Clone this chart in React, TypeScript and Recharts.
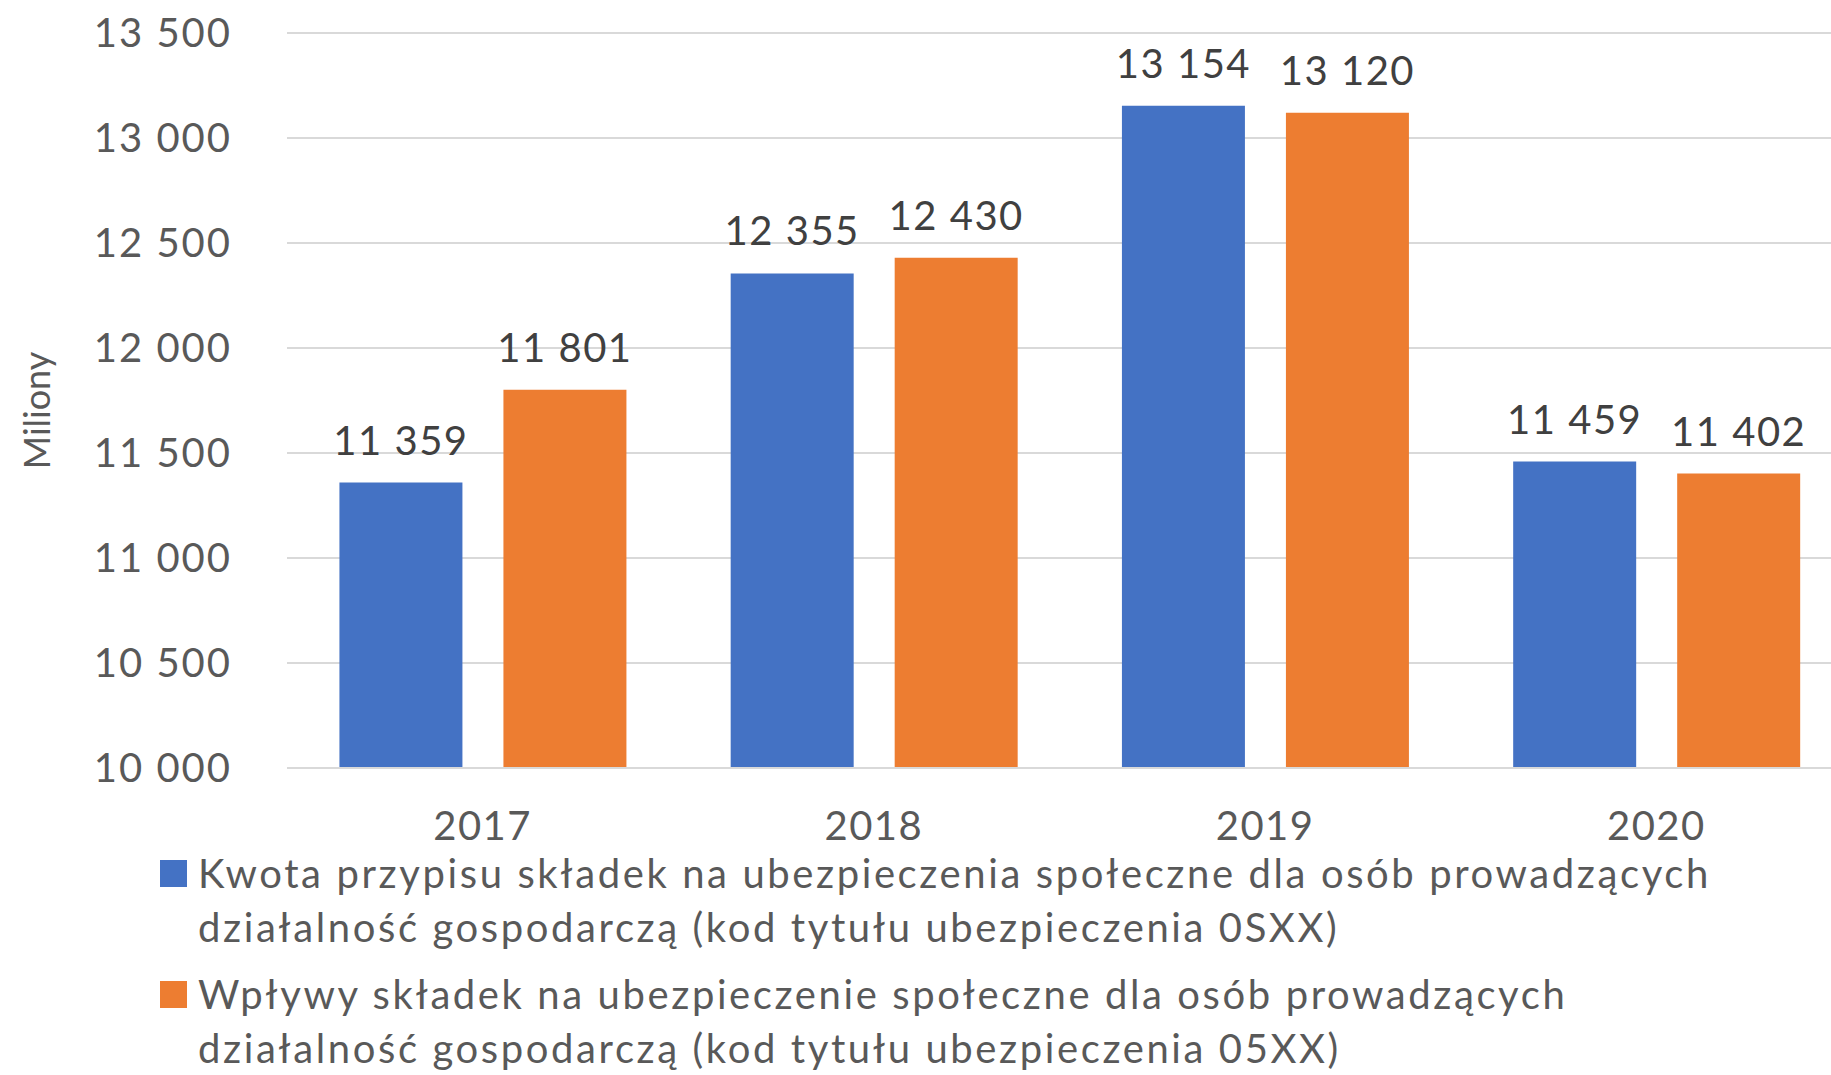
import { BarChart, Bar, XAxis, YAxis, CartesianGrid, LabelList, Legend, Label } from 'recharts'

const years = ['2017', '2018', '2019', '2020']
const przypis = [11359, 12355, 13154, 11459]
const wplywy = [11801, 12430, 13120, 11402]
const yTicks = [10000, 10500, 11000, 11500, 12000, 12500, 13000, 13500]
const seriesNames = [
  'Kwota przypisu składek na ubezpieczenia społeczne dla osób prowadzących\ndziałalność gospodarczą (kod tytułu ubezpieczenia 0SXX)',
  'Wpływy składek na ubezpieczenie społeczne dla osób prowadzących\ndziałalność gospodarczą (kod tytułu ubezpieczenia 05XX)',
]

const data = years.map((y, i) => ({ year: y, przypis: przypis[i], wplywy: wplywy[i] }))

const FONT = 'Lato, "Open Sans", sans-serif'
const fmt = (v: number) => String(v).replace(/\B(?=(\d{3})+(?!\d))/g, ' ')

function LegendBox({ payload }: any) {
  return (
    <div style={{ fontFamily: FONT, fontSize: 40, lineHeight: '54px', color: '#595959', letterSpacing: 2.6 }}>
      {(payload || []).map((p: any, i: number) => (
        <div key={i} style={{ display: 'flex', alignItems: 'flex-start', marginBottom: 13 }}>
          <div style={{ width: 27, height: 27, background: p.color, marginTop: 14, marginRight: 11, flexShrink: 0 }} />
          <div style={{ whiteSpace: 'pre-line' }}>{p.value}</div>
        </div>
      ))}
    </div>
  )
}

export default function App() {
  return (
    <div style={{ position: 'absolute', left: 0, top: 0, width: 1831, height: 1075, overflow: 'hidden', background: '#fff' }}>
      <BarChart
        width={1860}
        height={1075}
        data={data}
        margin={{ top: 33, right: 8, bottom: 227, left: 0 }}
        barCategoryGap="13.4%"
        barGap={41}
      >
        <CartesianGrid vertical={false} stroke="#d9d9d9" strokeWidth={2} />
        <XAxis
          dataKey="year"
          height={80}
          tickLine={false}
          axisLine={{ stroke: '#d9d9d9', strokeWidth: 2 }}
          tickSize={0}
          tickMargin={44}
          tick={{ fill: '#595959', fontSize: 40, fontFamily: FONT, letterSpacing: 1.5 }}
        />
        <YAxis
          width={287}
          domain={[10000, 13500]}
          ticks={yTicks}
          allowDataOverflow
          axisLine={false}
          tickLine={false}
          tickSize={0}
          tickMargin={55}
          tickFormatter={fmt}
          tick={{ fill: '#595959', fontSize: 40, fontFamily: FONT, letterSpacing: 2 }}
        >
          <Label value="Miliony" angle={-90} position="center" dx={-106} dy={10} fill="#595959" fontSize={36} fontFamily={FONT} />
        </YAxis>
        <Legend
          layout="horizontal"
          verticalAlign="middle"
          align="center"
          content={<LegendBox />}
          wrapperStyle={{ top: 846, left: 160, width: 1660 }}
        />
        <Bar dataKey="przypis" name={seriesNames[0]} fill="#4472C4" isAnimationActive={false}>
          <LabelList dataKey="przypis" position="top" offset={28} formatter={fmt} fill="#404040" fontSize={40} fontFamily={FONT} letterSpacing={1.5} />
        </Bar>
        <Bar dataKey="wplywy" name={seriesNames[1]} fill="#ED7D31" isAnimationActive={false}>
          <LabelList dataKey="wplywy" position="top" offset={28} formatter={fmt} fill="#404040" fontSize={40} fontFamily={FONT} letterSpacing={1.5} />
        </Bar>
      </BarChart>
    </div>
  )
}
